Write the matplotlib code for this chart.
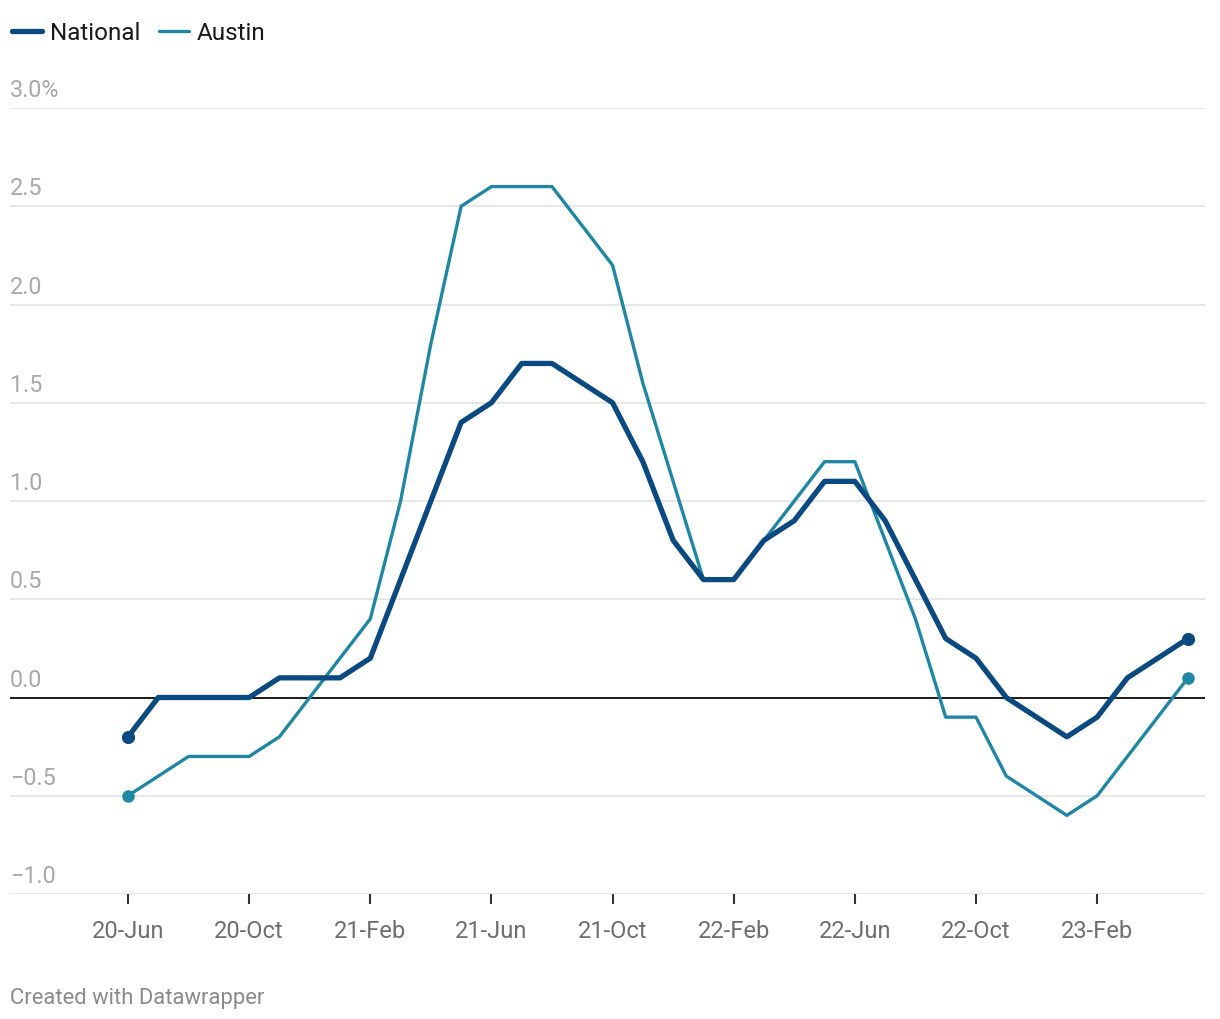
import matplotlib
matplotlib.use('Agg')
import matplotlib.pyplot as plt
from matplotlib import transforms
from matplotlib.lines import Line2D
import numpy as np

plt.rcParams['font.family'] = ['Roboto', 'DejaVu Sans']

# monthly values, Jun 2020 to May 2023
national = [-0.2, 0.0, 0.0, 0.0, 0.0, 0.1, 0.1, 0.1, 0.2, 0.6, 1.0, 1.4,
            1.5, 1.7, 1.7, 1.6, 1.5, 1.2, 0.8, 0.6, 0.6, 0.8, 0.9, 1.1,
            1.1, 0.9, 0.6, 0.3, 0.2, 0.0, -0.1, -0.2, -0.1, 0.1, 0.2, 0.3]
austin = [-0.5, -0.4, -0.3, -0.3, -0.3, -0.2, 0.0, 0.2, 0.4, 1.0, 1.8, 2.5,
          2.6, 2.6, 2.6, 2.4, 2.2, 1.6, 1.1, 0.6, 0.6, 0.8, 1.0, 1.2,
          1.2, 0.8, 0.4, -0.1, -0.1, -0.4, -0.5, -0.6, -0.5, -0.3, -0.1, 0.1]
tick_labels = ["20-Jun", "20-Oct", "21-Feb", "21-Jun", "21-Oct",
               "22-Feb", "22-Jun", "22-Oct", "23-Feb"]
y_grid = [-1.0, -0.5, 0.0, 0.5, 1.0, 1.5, 2.0, 2.5, 3.0]
y_labels = ["\u22121.0", "\u22120.5", "0.0", "0.5", "1.0", "1.5", "2.0", "2.5", "3.0%"]

NAT_C = '#0a4a80'
AUS_C = '#1f86a4'

W, H = 1220, 1020
fig = plt.figure(figsize=(W / 100, H / 100), dpi=100)
ax = fig.add_axes([10 / W, 1 - 895 / H, 1195 / W, 786 / H])

x = np.arange(len(national))
nat = np.array(national)
aus = np.array(austin)

# grid lines and labels
lab_tr = transforms.blended_transform_factory(ax.transAxes, ax.transData)
lab_tr = lab_tr + transforms.ScaledTranslation(0, 5 / 72, fig.dpi_scale_trans)
for v, lab in zip(y_grid, y_labels):
    if v == 0:
        ax.axhline(v, color='#1a1a1a', lw=1.4, zorder=2)
    else:
        ax.axhline(v, color='#e3e3e3', lw=1.2, zorder=1)
    ax.text(0, v, lab, transform=lab_tr, ha='left', va='bottom',
            fontsize=16.8, color='#a8a8a8')

ax.plot(x, aus, color=AUS_C, lw=2.4, zorder=3)
ax.plot(x, nat, color=NAT_C, lw=3.8, zorder=4)
ax.plot(x[[0, -1]], aus[[0, -1]], 'o', color=AUS_C, ms=8, zorder=3)
ax.plot(x[[0, -1]], nat[[0, -1]], 'o', color=NAT_C, ms=8.5, zorder=4)

px = 1060 / 35
ax.set_xlim(-118 / px, 35 + 17 / px)
ax.set_ylim(-1.0, 3.0)
ax.set_xticks(x[::4], tick_labels)
ax.tick_params(axis='x', length=7, width=1.5, color='#333333', pad=11,
               labelsize=17, labelcolor='#6e6e6e')
ax.set_yticks([])
for s in ax.spines.values():
    s.set_visible(False)

handles = [Line2D([], [], color=NAT_C, lw=3.8, solid_capstyle='round'),
           Line2D([], [], color=AUS_C, lw=2.4, solid_capstyle='round')]
fig.legend(handles, ['National', 'Austin'], loc='center left',
           bbox_to_anchor=(2 / W, 1 - 34 / H), ncol=2, frameon=False,
           fontsize=17.5, handlelength=1.25, handletextpad=0.33,
           columnspacing=0.75, borderaxespad=0, labelcolor='#1a1a1a')

fig.text(10 / W, 1 - 999 / H, 'Created with Datawrapper', ha='left',
         va='center', fontsize=15.8, color='#8a8a8a')

fig.savefig('out.png', dpi=100)
